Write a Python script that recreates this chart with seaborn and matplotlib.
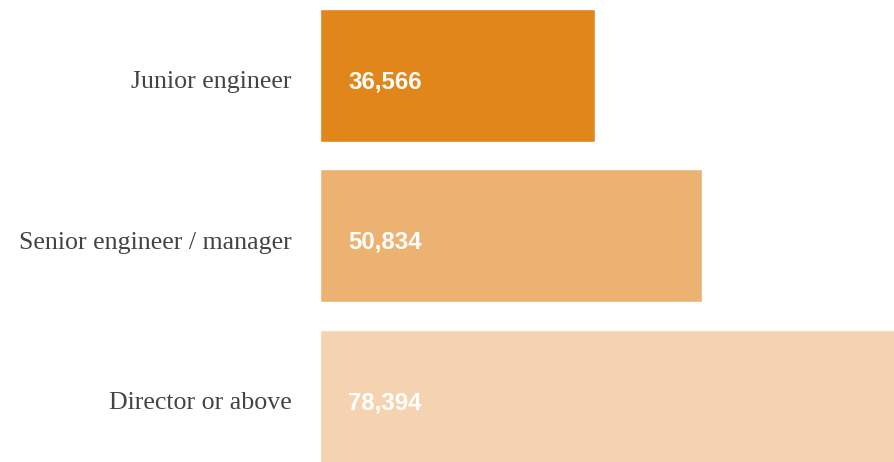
import matplotlib
matplotlib.use('Agg')
from matplotlib import pyplot as plt
import pandas as pd
import seaborn as sns

# data
roles = ['Junior engineer', 'Senior engineer / manager', 'Director or above']
salaries = [36566, 50834, 78394]
bar_colors = ['#E0861B', '#ECB272', '#F5D3B0']

df = pd.DataFrame({'role': roles, 'salary': salaries})

sns.set_style('white')

fig = plt.figure(figsize=(8.95, 4.62), dpi=100)
ax = fig.add_axes([320.5 / 895, 0, 574.5 / 895, 1])

sns.barplot(data=df, y='role', x='salary', hue='role', palette=bar_colors,
            orient='h', width=0.83, legend=False, ax=ax, saturation=1)

# last bar runs off the right edge in the reference
ax.set_xlim(0, 76600)
ax.set_ylim(2.41, -0.472)

# value labels inside the bars, category labels to the left
for i, (role, v) in enumerate(zip(roles, salaries)):
    ax.annotate(f'{v:,}', xy=(0, i), xytext=(28, -12.8),
                textcoords='offset pixels', va='baseline', ha='left',
                color='white', fontsize=17.3, fontweight='bold',
                family='Liberation Sans')
    ax.annotate(role, xy=(0, i), xytext=(-29, -12.8),
                textcoords='offset pixels', va='baseline', ha='right',
                color='#444444', fontsize=18.6, family='Liberation Serif',
                annotation_clip=False)

ax.set_xlabel('')
ax.set_ylabel('')
ax.set_xticks([])
ax.set_yticks([])
sns.despine(ax=ax, left=True, bottom=True)

fig.savefig('out.png', dpi=100)
